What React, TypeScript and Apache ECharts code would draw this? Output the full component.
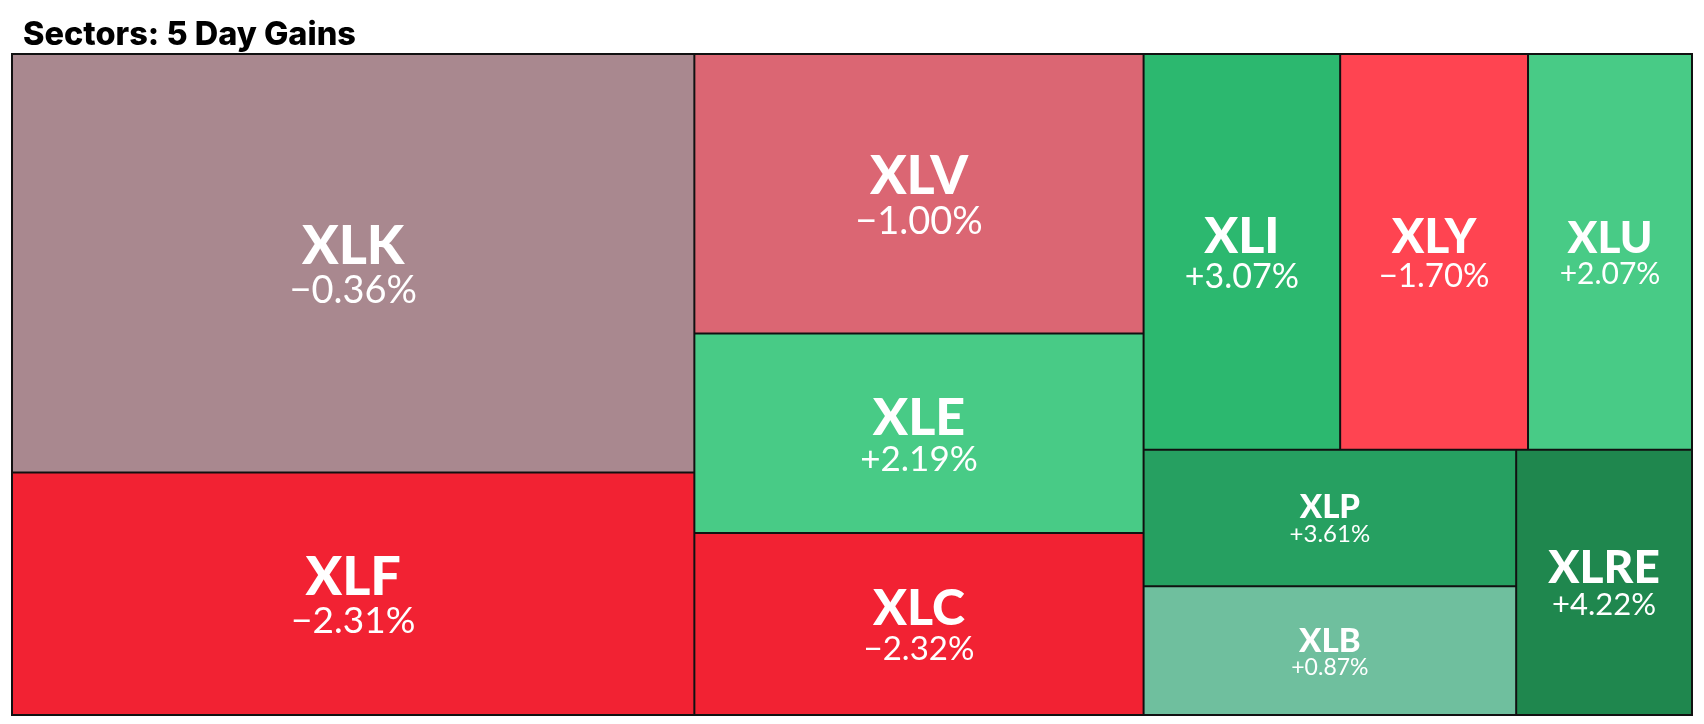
import React, { useEffect, useRef } from "react";
import * as echarts from "echarts";

// ---- data ----
const tickers = ["XLK", "XLF", "XLV", "XLE", "XLC", "XLI", "XLY", "XLU", "XLP", "XLB", "XLRE"];
const weights = [25.7, 14.9, 11.3, 8.07, 7.36, 7.0, 6.69, 5.84, 4.58, 4.32, 4.2];
const changes = [-0.36, -2.31, -1.0, 2.19, -2.32, 3.07, -1.7, 2.07, 3.61, 0.87, 4.22];
const titleText = "Sectors: 5 Day Gains";

// ---- styles: [ticker font size, change font size] ----
const labelSizes: Record<string, [number, number]> = {
  XLK: [54, 38],
  XLF: [54, 37],
  XLV: [54, 38],
  XLE: [52, 35],
  XLC: [50, 33],
  XLI: [50, 34],
  XLY: [48, 33],
  XLU: [44, 30],
  XLP: [33, 24],
  XLB: [33, 23],
  XLRE: [46, 31],
};
const T_LH = 0.92;
const P_LH = 1.05;

function colorFor(v: number): string {
  if (v <= -2) return "#F22233";
  if (v <= -1.5) return "#FF4451";
  if (v <= -0.75) return "#DB6673";
  if (v < 0) return "#A9888F";
  if (v < 1.5) return "#6FBF9E";
  if (v < 2.5) return "#48CB86";
  if (v < 3.3) return "#2CB86F";
  if (v < 4) return "#26A061";
  return "#1F874E";
}

function fmt(v: number): string {
  return (v >= 0 ? "+" : "\u2212") + Math.abs(v).toFixed(2) + "%";
}

function buildData(pads: Record<string, number>) {
  return tickers.map((t, i) => {
    const [ts, ps] = labelSizes[t];
    return {
      name: t,
      value: weights[i],
      change: changes[i],
      itemStyle: { color: colorFor(changes[i]) },
      label: {
        padding: [pads[t] || 0, 0, 0, 0],
        rich: {
          t: { fontSize: ts, fontWeight: 900, fontFamily: "Lato", color: "#fff", lineHeight: Math.round(ts * T_LH), align: "center" },
          p: { fontSize: ps, fontWeight: 400, fontFamily: "Lato", color: "#fff", lineHeight: Math.round(ps * P_LH), align: "center" },
        },
      },
    };
  });
}

export default function App() {
  const ref = useRef<HTMLDivElement>(null);
  useEffect(() => {
    if (!ref.current) return;
    const chart = echarts.init(ref.current, undefined, { renderer: "svg" });
    chart.setOption({
      animation: false,
      title: {
        text: titleText,
        left: 18,
        top: 12,
        textStyle: { fontFamily: "Inter", fontWeight: 800, fontSize: 32.5, color: "#000" },
      },
      series: [
        {
          type: "treemap",
          left: 11,
          top: 53,
          width: 1682,
          height: 663,
          roam: false,
          nodeClick: false,
          breadcrumb: { show: false },
          sort: "desc",
          itemStyle: { borderColor: "#111", borderWidth: 1, gapWidth: 0 },
          label: {
            show: true,
            position: "inside",
            align: "center",
            verticalAlign: "middle",
            formatter: (p: any) => `{t|${p.name}}\n{p|${fmt(p.data.change)}}`,
          },
          emphasis: { disabled: true },
          data: buildData({}),
        },
      ],
    });
    // center the two-line labels vertically using the laid-out cell heights
    try {
      const sm: any = (chart as any).getModel().getSeriesByIndex(0);
      const tree = sm.getData().tree;
      const pads: Record<string, number> = {};
      const visit = (node: any) => {
        if (node.children && node.children.length) {
          node.children.forEach(visit);
          return;
        }
        const lay = node.getLayout();
        if (!lay) return;
        const bw = lay.borderWidth || 0;
        const h = lay.height - 2 * bw;
        const sz = labelSizes[node.name];
        if (!sz) return;
        const block = Math.round(sz[0] * T_LH) + Math.round(sz[1] * P_LH);
        pads[node.name] = Math.max(0, (h - block) / 2);
      };
      visit(tree.root);
      chart.setOption({ series: [{ data: buildData(pads) }] });
    } catch (e) {
      // leave labels as they are
    }
    return () => chart.dispose();
  }, []);
  return <div ref={ref} style={{ position: "fixed", left: 0, top: 0, width: 1704, height: 724 }} />;
}
